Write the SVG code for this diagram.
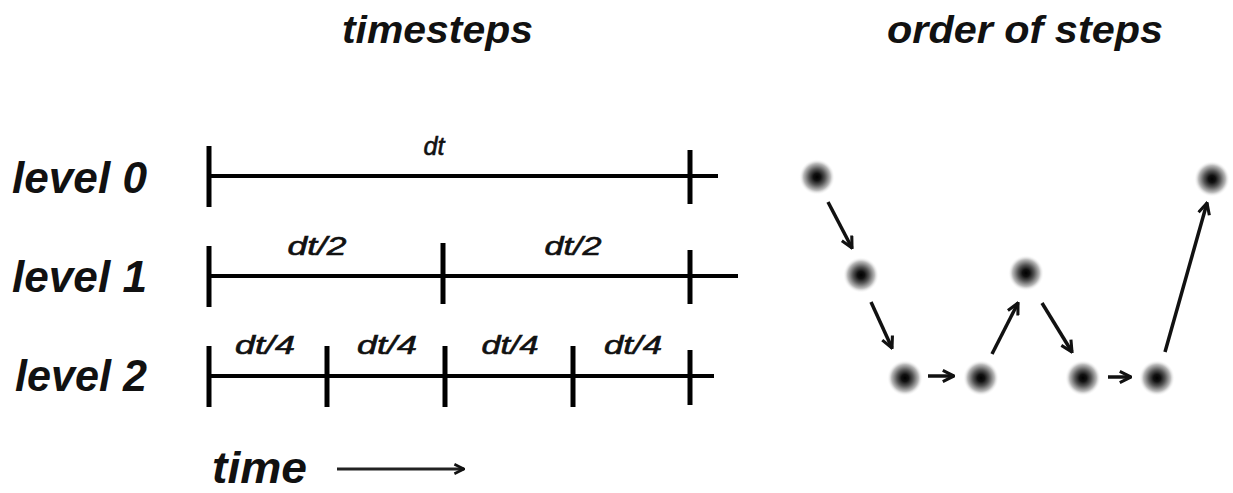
<svg xmlns="http://www.w3.org/2000/svg" width="1233" height="493" viewBox="0 0 1233 493">
<style>
.title{font-family:"Liberation Sans",Arial,sans-serif;font-style:italic;font-weight:bold;font-size:38px;fill:#111}
.lvl{font-family:"Liberation Sans",Arial,sans-serif;font-style:italic;font-weight:bold;font-size:44px;fill:#111}
.lab{font-family:"Liberation Sans",Arial,sans-serif;font-style:italic;font-size:25px;fill:#111;stroke:#111;stroke-width:0.6;text-anchor:middle}
.ax{stroke:#000;stroke-width:4;fill:none}
.tk{stroke:#000;stroke-width:5;fill:none}
.ar{stroke:#111;stroke-width:3.5;fill:none;marker-end:url(#ah)}
</style>
<defs>
<radialGradient id="dot">
<stop offset="0" stop-color="#000"/>
<stop offset="0.2" stop-color="#111"/>
<stop offset="0.45" stop-color="#555"/>
<stop offset="0.75" stop-color="#bbb"/>
<stop offset="1" stop-color="#fff" stop-opacity="0"/>
</radialGradient>
<marker id="ah" viewBox="0 0 10 10" refX="9" refY="5" markerWidth="4" markerHeight="4" orient="auto" markerUnits="strokeWidth">
<path d="M1,1 L9,5 L1,9" fill="none" stroke="#111" stroke-width="2.2"/>
</marker>
</defs>
<rect width="1233" height="493" fill="#fff"/>
<text class="title" x="342" y="43" textLength="191" lengthAdjust="spacingAndGlyphs">timesteps</text>
<text class="title" x="887" y="43" textLength="276" lengthAdjust="spacingAndGlyphs">order of steps</text>
<g id="level0">
<text class="lvl" x="12" y="193" textLength="135" lengthAdjust="spacingAndGlyphs">level 0</text>
<line class="ax" x1="209" y1="176" x2="718" y2="176"/>
<line class="tk" x1="209" y1="146" x2="209" y2="207"/>
<line class="tk" x1="690" y1="150" x2="690" y2="204"/>
<text class="lab" x="434" y="155" textLength="21" lengthAdjust="spacingAndGlyphs">dt</text>
</g>
<g id="level1">
<text class="lvl" x="12" y="292" textLength="135" lengthAdjust="spacingAndGlyphs">level 1</text>
<line class="ax" x1="209" y1="276" x2="738" y2="276"/>
<line class="tk" x1="209" y1="246" x2="209" y2="307"/>
<line class="tk" x1="443" y1="243" x2="443" y2="304"/>
<line class="tk" x1="690" y1="250" x2="690" y2="304"/>
<text class="lab" x="317" y="255" textLength="59" lengthAdjust="spacingAndGlyphs">dt/2</text>
<text class="lab" x="573" y="255" textLength="57" lengthAdjust="spacingAndGlyphs">dt/2</text>
</g>
<g id="level2">
<text class="lvl" x="15" y="391" textLength="132" lengthAdjust="spacingAndGlyphs">level 2</text>
<line class="ax" x1="209" y1="376" x2="714" y2="376"/>
<line class="tk" x1="209" y1="346" x2="209" y2="407"/>
<line class="tk" x1="327" y1="346" x2="327" y2="407"/>
<line class="tk" x1="445" y1="346" x2="445" y2="407"/>
<line class="tk" x1="573" y1="346" x2="573" y2="407"/>
<line class="tk" x1="690" y1="350" x2="690" y2="405"/>
<text class="lab" x="265" y="354" textLength="60" lengthAdjust="spacingAndGlyphs">dt/4</text>
<text class="lab" x="387" y="354" textLength="60" lengthAdjust="spacingAndGlyphs">dt/4</text>
<text class="lab" x="510" y="354" textLength="57" lengthAdjust="spacingAndGlyphs">dt/4</text>
<text class="lab" x="633" y="354" textLength="58" lengthAdjust="spacingAndGlyphs">dt/4</text>
</g>
<g id="time">
<text class="lvl" x="212" y="483" textLength="95" lengthAdjust="spacingAndGlyphs">time</text>
<line x1="337" y1="469" x2="464" y2="469" stroke="#222" stroke-width="3" marker-end="url(#ah)"/>
</g>
<g id="dots">
<circle id="s1" cx="817" cy="177" r="18" fill="url(#dot)"/>
<circle id="s2" cx="861" cy="275" r="18" fill="url(#dot)"/>
<circle id="s3" cx="905" cy="378" r="18" fill="url(#dot)"/>
<circle id="s4" cx="981" cy="378" r="18" fill="url(#dot)"/>
<circle id="s5" cx="1026" cy="273" r="18" fill="url(#dot)"/>
<circle id="s6" cx="1083" cy="378" r="18" fill="url(#dot)"/>
<circle id="s7" cx="1157" cy="378" r="18" fill="url(#dot)"/>
<circle id="s8" cx="1212" cy="179" r="18" fill="url(#dot)"/>
</g>
<g id="connectors">
<line class="ar" x1="828" y1="202" x2="852" y2="248"/>
<line class="ar" x1="871" y1="302" x2="892" y2="348"/>
<line class="ar" x1="928" y1="376" x2="954" y2="376"/>
<line class="ar" x1="992" y1="354" x2="1018" y2="303"/>
<line class="ar" x1="1042" y1="303" x2="1072" y2="352"/>
<line class="ar" x1="1108" y1="377" x2="1131" y2="377"/>
<line class="ar" x1="1165" y1="352" x2="1207" y2="203"/>
</g>
</svg>
